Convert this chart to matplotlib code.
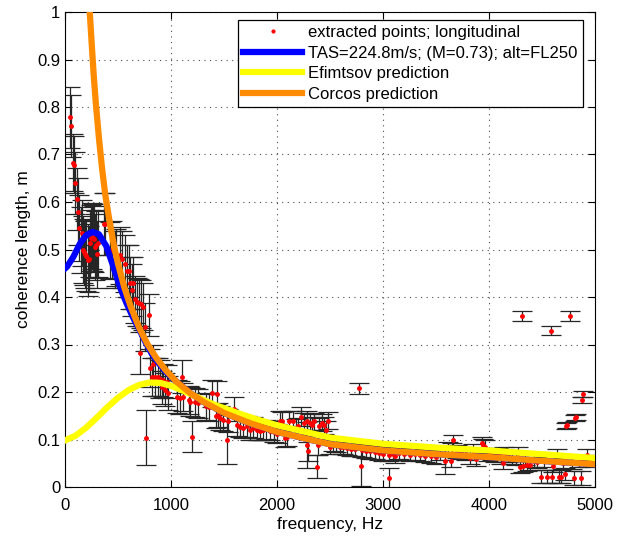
import matplotlib
matplotlib.use("Agg")
import matplotlib.pyplot as plt
import numpy as np

plt.rcParams['font.family'] = ['Liberation Sans', 'DejaVu Sans']
plt.rcParams['font.size'] = 12

# extracted points: frequency (Hz), coherence length (m), error half-width (m)
pts = [
    (45, 0.778, 0.065), (58, 0.760, 0.065), (75, 0.683, 0.06), (82, 0.678, 0.06),
    (97, 0.640, 0.065), (110, 0.607, 0.065), (123, 0.580, 0.07), (135, 0.545, 0.07),
    (148, 0.520, 0.07), (157, 0.535, 0.07), (170, 0.50, 0.07), (180, 0.495, 0.07),
    (190, 0.49, 0.07), (200, 0.487, 0.075), (214, 0.478, 0.075), (225, 0.48, 0.07),
    (232, 0.513, 0.07), (242, 0.524, 0.07), (252, 0.528, 0.07), (261, 0.525, 0.07),
    (272, 0.522, 0.07), (283, 0.505, 0.07), (295, 0.51, 0.07), (305, 0.49, 0.07),
    (315, 0.513, 0.07), (368, 0.553, 0.065), (378, 0.553, 0.065), (425, 0.497, 0.06),
    (440, 0.499, 0.06), (472, 0.478, 0.06), (481, 0.483, 0.06), (519, 0.488, 0.06),
    (540, 0.48, 0.06), (566, 0.47, 0.06), (585, 0.455, 0.055), (600, 0.455, 0.055),
    (615, 0.43, 0.055), (629, 0.415, 0.055), (645, 0.43, 0.055), (660, 0.395, 0.05),
    (680, 0.39, 0.05), (700, 0.388, 0.05), (708, 0.282, 0.045), (720, 0.385, 0.05),
    (740, 0.38, 0.05), (755, 0.337, 0.05), (760, 0.104, 0.058), (790, 0.362, 0.045),
    (802, 0.25, 0.04), (820, 0.232, 0.04), (833, 0.26, 0.04), (850, 0.232, 0.04),
    (880, 0.232, 0.04), (900, 0.228, 0.04), (915, 0.21, 0.035), (925, 0.225, 0.035),
    (945, 0.205, 0.035), (960, 0.222, 0.035), (975, 0.198, 0.035), (1055, 0.19, 0.035),
    (1085, 0.188, 0.035), (1100, 0.232, 0.035), (1110, 0.19, 0.03), (1170, 0.183, 0.03),
    (1180, 0.18, 0.03), (1195, 0.106, 0.033), (1230, 0.178, 0.03), (1255, 0.176, 0.03),
    (1330, 0.17, 0.028), (1360, 0.168, 0.028), (1385, 0.197, 0.028), (1420, 0.15, 0.025),
    (1430, 0.196, 0.028), (1445, 0.152, 0.025), (1460, 0.145, 0.025), (1495, 0.142, 0.025),
    (1530, 0.1, 0.052), (1540, 0.14, 0.025), (1590, 0.165, 0.025), (1620, 0.13, 0.022),
    (1650, 0.127, 0.022), (1680, 0.125, 0.022), (1715, 0.128, 0.022), (1745, 0.12, 0.022),
    (1775, 0.125, 0.022), (1810, 0.12, 0.02), (1840, 0.118, 0.02), (1870, 0.12, 0.02),
    (1900, 0.122, 0.02), (1930, 0.118, 0.02), (1970, 0.115, 0.02), (2000, 0.112, 0.02),
    (2030, 0.14, 0.02), (2050, 0.138, 0.02), (2075, 0.104, 0.02), (2095, 0.106, 0.02),
    (2110, 0.14, 0.02), (2150, 0.14, 0.02), (2180, 0.125, 0.018), (2200, 0.128, 0.018),
    (2230, 0.148, 0.02), (2250, 0.135, 0.02), (2280, 0.14, 0.02), (2285, 0.088, 0.048),
    (2295, 0.075, 0.02), (2310, 0.135, 0.018), (2330, 0.13, 0.018), (2350, 0.138, 0.018),
    (2375, 0.043, 0.025), (2390, 0.088, 0.02), (2400, 0.128, 0.018), (2420, 0.135, 0.018),
    (2440, 0.13, 0.018), (2460, 0.12, 0.018), (2480, 0.14, 0.018), (2500, 0.085, 0.015),
    (2530, 0.09, 0.015), (2560, 0.088, 0.015), (2590, 0.085, 0.015), (2620, 0.084, 0.015),
    (2660, 0.082, 0.015), (2700, 0.08, 0.015), (2740, 0.08, 0.015), (2777, 0.208, 0.012),
    (2790, 0.045, 0.042), (2800, 0.078, 0.015), (2840, 0.076, 0.015), (2880, 0.075, 0.015),
    (2920, 0.073, 0.015), (2960, 0.072, 0.015), (3000, 0.07, 0.015), (3057, 0.018, 0.022),
    (3060, 0.068, 0.014), (3090, 0.07, 0.014), (3113, 0.065, 0.014), (3150, 0.072, 0.014),
    (3200, 0.07, 0.014), (3250, 0.068, 0.014), (3300, 0.07, 0.014), (3350, 0.068, 0.014),
    (3400, 0.066, 0.014), (3450, 0.065, 0.014), (3500, 0.063, 0.014), (3540, 0.07, 0.013),
    (3585, 0.055, 0.028), (3615, 0.082, 0.013), (3640, 0.055, 0.013), (3650, 0.08, 0.013),
    (3665, 0.098, 0.012), (3700, 0.075, 0.013), (3740, 0.072, 0.013), (3780, 0.07, 0.013),
    (3820, 0.062, 0.013), (3850, 0.078, 0.013), (3880, 0.058, 0.013), (3930, 0.093, 0.013),
    (3945, 0.088, 0.013), (3960, 0.085, 0.013), (3990, 0.068, 0.013), (4030, 0.07, 0.013),
    (4060, 0.066, 0.013), (4085, 0.07, 0.013), (4110, 0.062, 0.013), (4135, 0.05, 0.012),
    (4142, 0.072, 0.013), (4180, 0.065, 0.013), (4220, 0.06, 0.012), (4250, 0.058, 0.012),
    (4277, 0.072, 0.013), (4290, 0.042, 0.012), (4308, 0.36, 0.01), (4318, 0.044, 0.012),
    (4340, 0.058, 0.012), (4360, 0.046, 0.012), (4390, 0.047, 0.012), (4420, 0.055, 0.012),
    (4450, 0.052, 0.012), (4490, 0.022, 0.013), (4520, 0.055, 0.012), (4545, 0.022, 0.013),
    (4585, 0.329, 0.01), (4595, 0.022, 0.013), (4607, 0.044, 0.012), (4638, 0.067, 0.012),
    (4660, 0.022, 0.013), (4680, 0.022, 0.013), (4700, 0.05, 0.012), (4717, 0.027, 0.013),
    (4725, 0.128, 0.006), (4735, 0.13, 0.006), (4764, 0.36, 0.01), (4780, 0.05, 0.012),
    (4800, 0.019, 0.015), (4815, 0.145, 0.006), (4825, 0.148, 0.006), (4850, 0.055, 0.012),
    (4865, 0.019, 0.015), (4877, 0.183, 0.006), (4890, 0.196, 0.006), (4920, 0.068, 0.012),
    (4950, 0.055, 0.012),
]
pt_f = [p[0] for p in pts]
pt_v = [p[1] for p in pts]
pt_e = [p[2] for p in pts]

# TAS curve (merges with the Corcos curve above ~1000 Hz)
tas_f = [0, 20, 80, 140, 200, 260, 320, 390, 450, 520, 580, 640, 700, 760, 820, 880,
         950, 1050, 1180, 1300, 1500, 1750, 2000, 2500, 3000, 3500, 4000, 4500, 5000]
tas_v = [0.46, 0.464, 0.485, 0.512, 0.53, 0.537, 0.532, 0.507, 0.468, 0.42, 0.387, 0.358,
         0.332, 0.305, 0.28, 0.262, 0.243, 0.222, 0.198, 0.18, 0.156, 0.134, 0.116, 0.09,
         0.077, 0.069, 0.063, 0.055, 0.048]

# Efimtsov prediction
efi_f = [0, 100, 200, 300, 400, 500, 600, 700, 800, 900, 1000, 1100, 1200, 1400, 1600,
         1800, 2000, 2500, 3000, 3500, 4000, 4500, 5000]
efi_v = [0.098, 0.108, 0.125, 0.146, 0.168, 0.188, 0.204, 0.215, 0.22, 0.219, 0.213, 0.204,
         0.194, 0.174, 0.158, 0.143, 0.13, 0.104, 0.091, 0.083, 0.077, 0.069, 0.061]

# Corcos prediction
cor_f = [225, 250, 270, 290, 320, 350, 380, 420, 460, 500, 560, 620, 700, 780, 860, 950,
         1050, 1180, 1300, 1500, 1750, 2000, 2500, 3000, 3500, 4000, 4500, 5000]
cor_v = [1.03, 0.94, 0.87, 0.81, 0.735, 0.67, 0.615, 0.56, 0.51, 0.47, 0.42, 0.38, 0.335,
         0.3, 0.272, 0.246, 0.222, 0.198, 0.18, 0.156, 0.134, 0.116, 0.09, 0.077, 0.069,
         0.063, 0.055, 0.048]

fig = plt.figure(figsize=(6.24, 5.38), dpi=100)
ax = fig.add_axes([65/624, 1-487/538, 530/624, 475/538])

ax.errorbar(pt_f, pt_v, yerr=pt_e, fmt='none', ecolor='0.15', elinewidth=0.9,
            capsize=7.5, capthick=0.9, zorder=2)
ax.plot(pt_f, pt_v, '.', color='red', markersize=5, zorder=3,
        label='extracted points; longitudinal')
ax.plot(tas_f, tas_v, color='#0000ff', lw=4.5, zorder=4,
        label='TAS=224.8m/s; (M=0.73); alt=FL250')
ax.plot(efi_f, efi_v, color='#ffff00', lw=4.5, zorder=5, label='Efimtsov prediction')
ax.plot(cor_f, cor_v, color='#ff8c00', lw=4.5, zorder=6, label='Corcos prediction')

ax.set_xlim(0, 5000)
ax.set_ylim(0, 1)
ax.set_xticks(np.arange(0, 5001, 1000))
ax.set_yticks(np.arange(0, 1.01, 0.1))
ax.set_yticklabels(['0', '0.1', '0.2', '0.3', '0.4', '0.5', '0.6', '0.7', '0.8', '0.9', '1'])
ax.tick_params(direction='in', top=True, right=True, length=5, labelsize=12)
ax.tick_params(axis='x', pad=8)
ax.grid(True, linestyle=(0, (1, 4)), color='0.3', lw=0.8)
ax.set_axisbelow(True)
ax.set_xlabel('frequency, Hz', fontsize=12.5, labelpad=3)
ax.set_ylabel('coherence length, m', fontsize=12.5)

leg = ax.legend(loc='upper right', bbox_to_anchor=(0.977, 0.983), borderaxespad=0,
                fancybox=False, edgecolor='black', framealpha=1, fontsize=12,
                handlelength=3.5, labelspacing=0.33, borderpad=0.3, handletextpad=0.4,
                markerscale=0.8)
leg.get_frame().set_linewidth(0.9)

fig.savefig('out.png', dpi=100)
